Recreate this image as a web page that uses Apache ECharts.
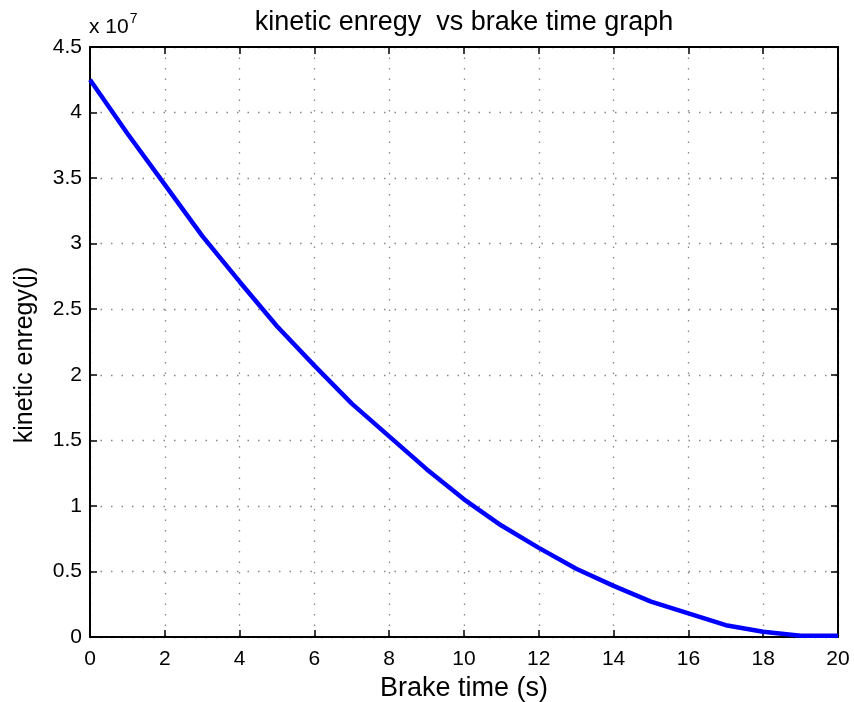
<!DOCTYPE html>
<html>
<head>
<meta charset="utf-8">
<script src="https://cdn.jsdelivr.net/npm/echarts@6/dist/echarts.min.js"></script>
<style>
html,body{margin:0;padding:0;background:#fff;}
#chart{width:854px;height:702px;}
</style>
</head>
<body>
<div id="chart"></div>
<script>
// brake time (s)
var brakeTime = [0,1,2,3,4,5,6,7,8,9,10,11,12,13,14,15,16,17,18,19,20];
// kinetic energy in units of 1e7 J
var kineticE7 = [4.25,3.84,3.45,3.06,2.71,2.37,2.07,1.78,1.53,1.28,1.05,0.85,0.68,0.52,0.39,0.27,0.18,0.09,0.04,0.01,0.01];

var pts = [];
for (var i = 0; i < brakeTime.length; i++) {
    pts.push([brakeTime[i], kineticE7[i] * 1e7]);
}

var fnt = '"Liberation Sans", Arial, sans-serif';
var myChart = echarts.init(document.getElementById('chart'));

function xAx(pos, showLabel, showGrid) {
    return {
        type: 'value', position: pos, min: 0, max: 20, interval: 2,
        name: showLabel ? 'Brake time (s)' : '',
        nameLocation: 'middle', nameGap: 35,
        nameTextStyle: { fontFamily: fnt, fontSize: 27, color: '#000' },
        axisLine: { show: true, onZero: false, lineStyle: { color: '#000', width: 2 } },
        axisTick: { show: true, inside: true, length: 7, lineStyle: { color: '#000', width: 1.5 } },
        axisLabel: { show: showLabel, fontFamily: fnt, fontSize: 21, color: '#000', margin: 12 },
        splitLine: { show: showGrid, lineStyle: { color: '#888', width: 1.3, type: [1.5, 9] } }
    };
}
function yAx(pos, showLabel, showGrid) {
    return {
        type: 'value', position: pos, min: 0, max: 4.5e7, interval: 0.5e7,
        name: showLabel ? 'kinetic enregy(j)' : '',
        nameLocation: 'middle', nameGap: 52,
        nameTextStyle: { fontFamily: fnt, fontSize: 25, color: '#000', padding: [0, 26, 0, 0] },
        axisLine: { show: true, onZero: false, lineStyle: { color: '#000', width: 2 } },
        axisTick: { show: true, inside: true, length: 7, lineStyle: { color: '#000', width: 1.5 } },
        axisLabel: {
            show: showLabel, fontFamily: fnt, fontSize: 21, color: '#000', margin: 8,
            formatter: function (v) { return String(Math.round(v / 1e6) / 10); }
        },
        splitLine: { show: showGrid, lineStyle: { color: '#888', width: 1.3, type: [1.5, 9] } }
    };
}

var option = {
    backgroundColor: '#fff',
    animation: false,
    title: {
        text: 'kinetic enregy  vs brake time graph',
        left: 459, top: 4, textAlign: 'center',
        textStyle: { fontFamily: fnt, fontSize: 27, fontWeight: 'normal', color: '#000' }
    },
    graphic: [{
        type: 'text', left: 89, top: 12,
        style: {
            text: '{a|x 10}{b|7}',
            rich: {
                a: { fontFamily: fnt, fontSize: 21, fill: '#000', verticalAlign: 'bottom' },
                b: { fontFamily: fnt, fontSize: 14, fill: '#000', verticalAlign: 'top', padding: [0, 0, 12, 1] }
            }
        }
    }],
    grid: { left: 90, right: 16, top: 47, bottom: 65, containLabel: false, outerBoundsMode: 'none' },
    xAxis: [xAx('bottom', true, true), xAx('top', false, false)],
    yAxis: [yAx('left', true, true), yAx('right', false, false)],
    series: [{
        type: 'line',
        data: pts,
        xAxisIndex: 0, yAxisIndex: 0,
        symbol: 'none',
        smooth: false,
        lineStyle: { color: '#0000ff', width: 4.5 },
        z: 5
    }]
};
myChart.setOption(option);
</script>
</body>
</html>
